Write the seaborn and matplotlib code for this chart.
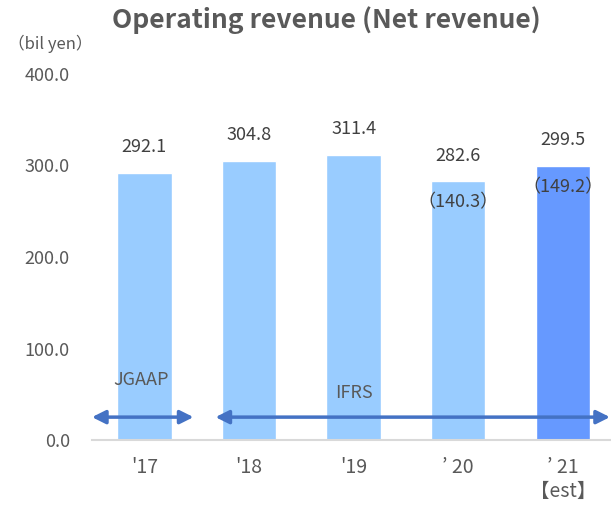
import matplotlib
matplotlib.use("Agg")
import matplotlib.pyplot as plt
import seaborn as sns
import pandas as pd

years = ["'17", "'18", "'19", "\u2019 20", "\u2019 21\n\u3010est\u3011"]
revenue = [292.1, 304.8, 311.4, 282.6, 299.5]
net_revenue = [None, None, None, 140.3, 149.2]
bar_colors = ["#99CCFF", "#99CCFF", "#99CCFF", "#99CCFF", "#6699FF"]

sns.set_theme(style="white")
plt.rcParams['font.family'] = ['Noto Sans CJK JP', 'DejaVu Sans']
txt = "#595959"

df = pd.DataFrame({"year": years, "revenue": revenue})

fig = plt.figure(figsize=(6.11, 5.12), dpi=100)
ax = fig.add_axes([92/611, 1 - 440/512, 1 - 92/611, (440 - 74)/512])
sns.barplot(data=df, x="year", y="revenue", hue="year", palette=bar_colors,
            legend=False, width=0.52, saturation=1, ax=ax)

ax.set_ylim(0, 400)
ax.set_xlim(-0.5, 4.46)
ax.set_yticks([0, 100, 200, 300, 400])
ax.set_yticklabels([f"{v:.1f}" for v in [0, 100, 200, 300, 400]], fontsize=13, color=txt)
ax.tick_params(axis="y", length=0, pad=16)
ax.tick_params(axis="x", length=0, pad=12, labelsize=14, labelcolor=txt)
ax.set_xlabel("")
ax.set_ylabel("")
for s in ["left", "right", "top"]:
    ax.spines[s].set_visible(False)
ax.spines["bottom"].set_color("#D9D9D9")
ax.spines["bottom"].set_linewidth(1.5)

# value labels
for i, v in enumerate(revenue):
    ax.text(i, v + 28, f"{v:.1f}", ha="center", va="center", fontsize=13, color="#404040")
for i, v in enumerate(net_revenue):
    if v is not None:
        ax.text(i, revenue[i] - 23, f"\uff08{v:.1f}\uff09", ha="center", va="center",
                fontsize=13, color="#404040")

# accounting standard arrows
arr = dict(arrowstyle="<|-|>", color="#4472C4", lw=2.5, mutation_scale=20, shrinkA=0, shrinkB=0)
ax.annotate("", xy=(-0.5, 25), xytext=(0.47, 25), arrowprops=arr, annotation_clip=False)
ax.annotate("", xy=(0.68, 25), xytext=(4.45, 25), arrowprops=arr, annotation_clip=False)
ax.text(-0.03, 66, "JGAAP", ha="center", va="center", fontsize=13, color=txt)
ax.text(2.0, 51, "IFRS", ha="center", va="center", fontsize=13, color=txt)

fig.text(326/611, 1 - 20/512, "Operating revenue (Net revenue)", ha="center", va="center",
         fontsize=19, fontweight="bold", color=txt)
fig.text(50/611, 1 - 44/512, "\uff08bil yen\uff09", ha="center", va="center", fontsize=12, color=txt)

fig.savefig("out.png", dpi=100)
